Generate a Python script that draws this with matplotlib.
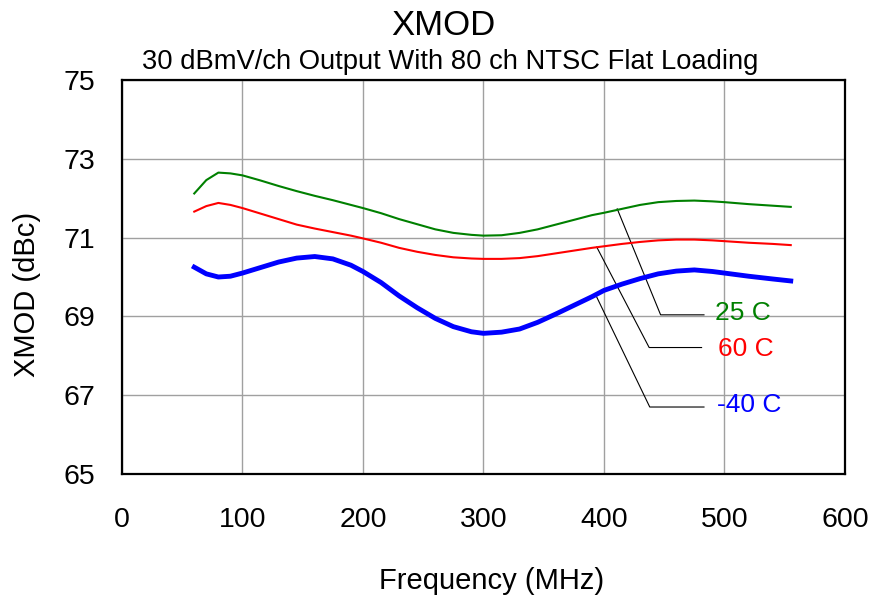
import matplotlib
matplotlib.use("Agg")
import matplotlib.pyplot as plt

plt.rcParams["font.family"] = ["Liberation Sans", "DejaVu Sans"]

# ------------------------------------------------------------
# XMOD vs frequency, three case temperatures
# ------------------------------------------------------------

freq = [60, 70, 80, 90, 100, 115, 130, 145, 160, 175, 190, 200, 215, 230,
        245, 260, 275, 290, 300, 315, 330, 345, 360, 375, 390, 400, 415,
        430, 445, 460, 475, 490, 500, 520, 540, 555]

xmod_25c = [72.12, 72.46, 72.65, 72.63, 72.58, 72.45, 72.31, 72.18, 72.06,
            71.95, 71.83, 71.75, 71.62, 71.47, 71.34, 71.21, 71.12, 71.07,
            71.05, 71.06, 71.12, 71.21, 71.33, 71.45, 71.57, 71.63, 71.73,
            71.83, 71.90, 71.93, 71.94, 71.92, 71.90, 71.85, 71.81, 71.78]

xmod_60c = [71.66, 71.80, 71.88, 71.83, 71.75, 71.61, 71.47, 71.33, 71.23,
            71.14, 71.05, 70.98, 70.87, 70.74, 70.64, 70.56, 70.50, 70.47,
            70.46, 70.46, 70.48, 70.53, 70.60, 70.67, 70.74, 70.78, 70.84,
            70.89, 70.93, 70.95, 70.95, 70.93, 70.91, 70.87, 70.84, 70.81]

xmod_m40c = [70.25, 70.08, 70.00, 70.02, 70.10, 70.24, 70.38, 70.48, 70.52,
             70.46, 70.30, 70.14, 69.86, 69.52, 69.22, 68.95, 68.74, 68.61,
             68.57, 68.60, 68.68, 68.85, 69.06, 69.28, 69.50, 69.66, 69.82,
             69.96, 70.08, 70.15, 70.18, 70.14, 70.10, 70.02, 69.95, 69.90]

series_labels = ["25 C", "60 C", "-40 C"]
series_colors = ["#008000", "#ff0000", "#0000ff"]
series_widths = [1.5, 1.5, 3.5]

# callout leader lines: start on curve, elbow, end of horizontal run
callout_x = [[411, 447, 483], [394, 437.5, 481], [394, 438, 483]]
callout_y = [[71.73, 69.04, 69.04], [70.76, 68.21, 68.21], [69.49, 66.70, 66.70]]
label_pos = [(492, 69.09), (495, 68.18), (494, 66.75)]

x_ticks = [0, 100, 200, 300, 400, 500, 600]
y_ticks = [65, 67, 69, 71, 73, 75]

# ------------------------------------------------------------
# FIGURE
# ------------------------------------------------------------

fig = plt.figure(figsize=(8.73, 5.99), dpi=100)
ax = fig.add_axes([0.1397, 0.2087, 0.8282, 0.6577])

for y_vals, color, lw in zip([xmod_25c, xmod_60c, xmod_m40c],
                             series_colors, series_widths):
    ax.plot(freq, y_vals, color=color, linewidth=lw, zorder=3,
            solid_joinstyle="round")

for cx, cy, (lx, ly), text, color in zip(callout_x, callout_y, label_pos,
                                          series_labels, series_colors):
    ax.plot(cx, cy, color="black", linewidth=0.8, zorder=2)
    ax.text(lx, ly, text, color=color, fontsize=19,
            ha="left", va="center", zorder=4)

ax.set_xlim(0, 600)
ax.set_ylim(65, 75)
ax.set_xticks(x_ticks)
ax.set_yticks(y_ticks)

ax.grid(True, color="#a0a0a0", linewidth=1.0)
ax.set_axisbelow(True)

ax.tick_params(axis="both", length=0, labelsize=20.5)
ax.tick_params(axis="y", pad=19)
ax.tick_params(axis="x", pad=24)

for spine in ax.spines.values():
    spine.set_linewidth(1.6)
    spine.set_color("black")

fig.text(443 / 873, 1 - 35 / 599, "XMOD", fontsize=25,
         ha="center", va="baseline")
fig.text(450 / 873, 1 - 69 / 599,
         "30 dBmV/ch Output With 80 ch NTSC Flat Loading",
         fontsize=19.7, ha="center", va="baseline")

fig.text(492 / 873, 1 - 589 / 599, "Frequency (MHz)", fontsize=21,
         ha="center", va="baseline")
fig.text(27 / 873, 1 - 294 / 599, "XMOD (dBc)", fontsize=21,
         rotation=90, ha="center", va="center")

fig.savefig("out.png", dpi=100)
plt.close(fig)
